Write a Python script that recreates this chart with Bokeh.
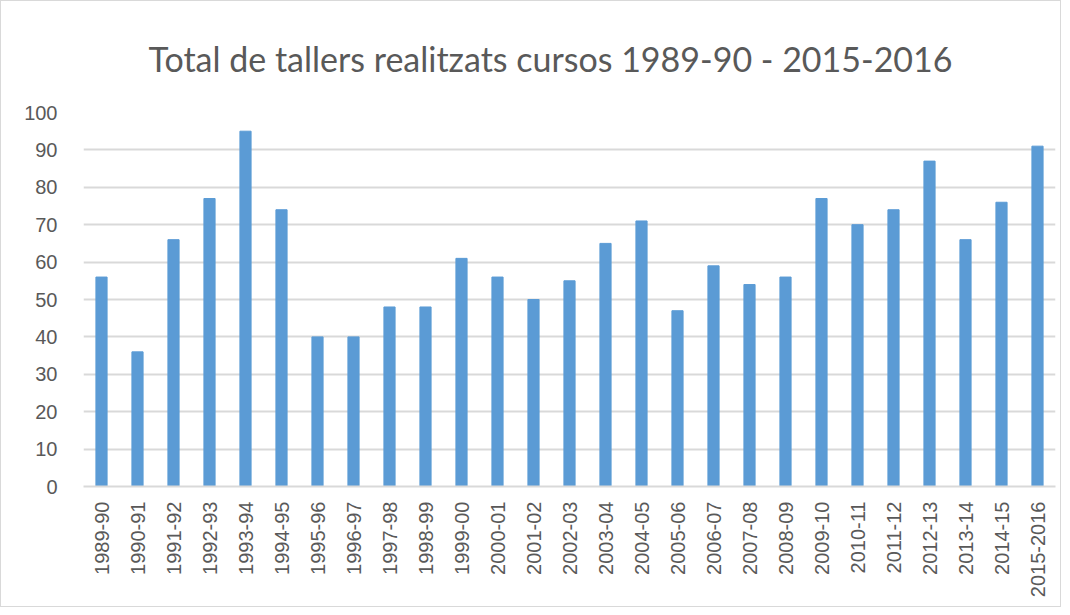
from bokeh.plotting import figure
from bokeh.models import FactorRange
from bokeh.embed import file_html
from bokeh.resources import INLINE
import math

categories = ["1989-90", "1990-91", "1991-92", "1992-93", "1993-94", "1994-95", "1995-96",
              "1996-97", "1997-98", "1998-99", "1999-00", "2000-01", "2001-02", "2002-03",
              "2003-04", "2004-05", "2005-06", "2006-07", "2007-08", "2008-09", "2009-10",
              "2010-11", "2011-12", "2012-13", "2013-14", "2014-15", "2015-2016"]
tallers = [56, 36, 66, 77, 95, 74, 40, 40, 48, 48, 61, 56, 50, 55, 65, 71, 47, 59, 54, 56,
           77, 70, 74, 87, 66, 76, 91]
y_ticks = [0, 10, 20, 30, 40, 50, 60, 70, 80, 90, 100]
title_text = "Total de tallers realitzats cursos 1989-90 - 2015-2016"

BL, BR, BT, BB = 82, 7, 111, 122
FW, FH = 972, 374
W, H = BL + FW + BR, BT + FH + BB
p = figure(x_range=FactorRange(factors=categories, range_padding=0), y_range=(0, 100),
           width=W, height=H, output_backend="svg", toolbar_location=None,
           min_border_left=BL, min_border_right=BR, min_border_top=BT, min_border_bottom=BB,
           title=title_text)
p.vbar(x=categories, top=tallers, width=0.31, color="#5b9bd5")

p.title.align = "left"
p.title.offset = 65
p.title.standoff = 67
p.title.text_font = "Lato"
p.title.text_font_size = "34px"
p.title.text_font_style = "normal"
p.title.text_color = "#595959"

p.outline_line_color = None
p.styles = {"border": "1px solid #d9d9d9"}

p.yaxis.ticker = y_ticks
p.yaxis.axis_line_color = None
p.yaxis.major_tick_line_color = None
p.yaxis.minor_tick_line_color = None
p.yaxis.major_label_text_font = "Liberation Sans"
p.yaxis.major_label_text_font_size = "20px"
p.yaxis.major_label_text_color = "#595959"
p.yaxis.major_label_standoff = 20

p.xaxis.axis_line_color = "#d9d9d9"
p.xaxis.axis_line_width = 2
p.xaxis.major_tick_line_color = None
p.xaxis.major_tick_out = 0
p.xaxis.major_label_orientation = math.pi / 2
p.xaxis.major_label_text_font = "Liberation Sans"
p.xaxis.major_label_text_font_size = "20px"
p.xaxis.major_label_text_color = "#595959"
p.xaxis.major_label_standoff = 15

p.xgrid.grid_line_color = None
p.ygrid.grid_line_color = "#d9d9d9"
p.ygrid.grid_line_width = 2

open("out.html", "w").write(file_html(p, INLINE))
